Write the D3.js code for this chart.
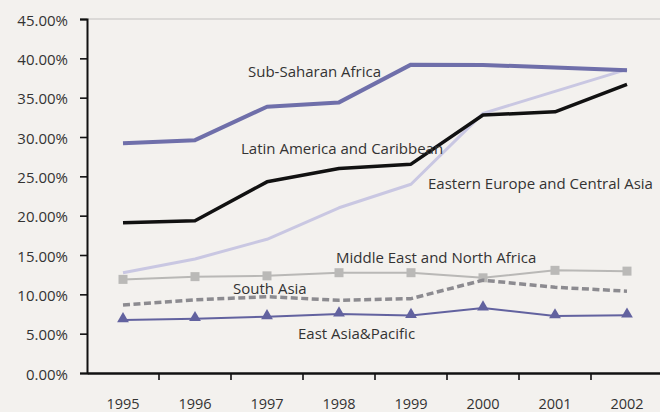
<!DOCTYPE html>
<html><head><meta charset="utf-8">
<script src="https://cdn.jsdelivr.net/npm/d3@7/dist/d3.min.js"></script>
<style>
html,body{margin:0;padding:0;background:#f3f1ee;}
svg{display:block;font-family:"Open Sans",sans-serif;}
</style></head>
<body><svg id="c" width="660" height="412"></svg>
<script>
const years = ["1995","1996","1997","1998","1999","2000","2001","2002"];
const yTicks = [0,5,10,15,20,25,30,35,40,45];
const subSaharan = [29.2,29.6,33.85,34.4,39.2,39.15,38.85,38.5];
const latinAmerica = [19.1,19.35,24.3,26.0,26.55,32.8,33.2,36.7];
const easternEurope = [12.75,14.5,17.0,21.0,24.0,33.0,35.8,38.6];
const middleEast = [11.9,12.25,12.35,12.75,12.75,12.1,13.05,12.95];
const southAsia = [8.65,9.3,9.7,9.25,9.45,11.8,10.9,10.4];
const eastAsia = [6.75,6.9,7.15,7.5,7.3,8.25,7.25,7.35];
const labels = [
  {text:"Sub-Saharan Africa", year:"1997", v:37.6, dx:-19},
  {text:"Latin America and Caribbean", year:"1997", v:27.85, dx:-26},
  {text:"Eastern Europe and Central Asia", year:"1999", v:23.4, dx:17},
  {text:"Middle East and North Africa", year:"1998", v:14.0, dx:-3},
  {text:"South Asia", year:"1997", v:10.05, dx:-34},
  {text:"East Asia&Pacific", year:"1998", v:4.3, dx:-41}
];

const svg = d3.select("#c");
const mLeft = 87, mRight = 663, mTop = 19, mBottom = 373;
const x = d3.scaleBand().domain(years).range([mLeft, mRight]);
const xc = d => x(d) + x.bandwidth()/2;
const y = d3.scaleLinear().domain([0,45]).range([mBottom, mTop]);

// top border
svg.append("line").attr("x1",mLeft).attr("x2",660).attr("y1",mTop).attr("y2",mTop)
  .attr("stroke","#c4c2c0").attr("stroke-width",1.2);

// y axis
const ya = svg.append("g").attr("transform",`translate(${mLeft},0)`)
  .call(d3.axisLeft(y).tickValues(yTicks).tickSize(7).tickPadding(12)
    .tickFormat(d => d.toFixed(2) + "%"));
ya.select(".domain").attr("stroke","#111").attr("stroke-width",2);
ya.selectAll(".tick line").attr("stroke","#111").attr("stroke-width",1.6);
ya.selectAll(".tick text").attr("fill","#333").attr("dy","0.4em")
  .style("font-size","15px").style("font-family","Open Sans");

// x axis
const xa = svg.append("g").attr("transform",`translate(0,${mBottom})`)
  .call(d3.axisBottom(x).tickSize(0).tickPadding(26));
xa.select(".domain").attr("stroke","#111").attr("stroke-width",2.4);
xa.selectAll(".tick text").attr("fill","#333").style("font-size","14.5px").style("font-family","Open Sans");
// x boundary ticks
svg.append("g").selectAll("line").data(years.slice(1)).join("line")
  .attr("x1", d => x(d)).attr("x2", d => x(d))
  .attr("y1", mBottom).attr("y2", mBottom + 7)
  .attr("stroke","#111").attr("stroke-width",1.6);

const line = d3.line().x((d,i) => xc(years[i])).y(d => y(d));

function series(data, color, width, dash){
  svg.append("path").datum(data).attr("d", line)
    .attr("fill","none").attr("stroke",color).attr("stroke-width",width)
    .attr("stroke-linejoin","round").attr("stroke-dasharray", dash || null);
}
series(easternEurope, "#c9c7e2", 3);
series(middleEast, "#b9b8b6", 2);
svg.append("g").selectAll("rect").data(middleEast).join("rect")
  .attr("x",(d,i)=>xc(years[i])-4.5).attr("y",d=>y(d)-4.5)
  .attr("width",9).attr("height",9).attr("fill","#bab9b7");
series(southAsia, "#8c8b90", 3.5, "7,3.5");
series(eastAsia, "#62629f", 2);
const tri = d3.symbol().type(d3.symbolTriangle).size(60);
svg.append("g").selectAll("path").data(eastAsia).join("path")
  .attr("d", tri).attr("transform",(d,i)=>`translate(${xc(years[i])},${y(d)-1})`)
  .attr("fill","#62629f");
series(latinAmerica, "#111", 3.5);
series(subSaharan, "#6f6faa", 4);

svg.append("g").selectAll("text").data(labels).join("text")
  .attr("x", d => xc(d.year) + d.dx).attr("y", d => y(d.v))
  .attr("fill","#333").style("font-size","15px")
  .text(d => d.text);
</script></body></html>
